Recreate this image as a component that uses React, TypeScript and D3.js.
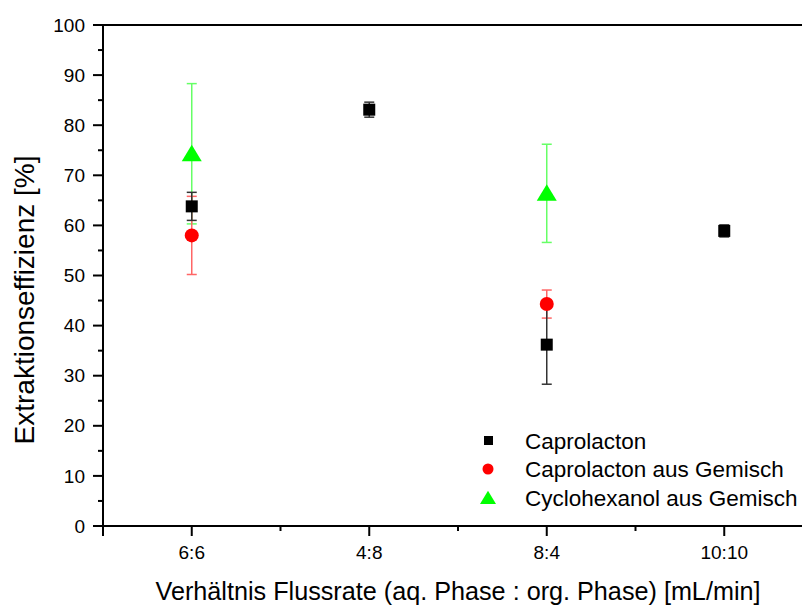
import React from "react";
import * as d3 from "d3";

const categories = ["6:6", "4:8", "8:4", "10:10"];
const capro = [63.8, 83.1, 36.2, 58.9];
const caproErr = [2.8, 1.5, 7.9, 1.2];
const caproMix = [58.0, null, 44.3, null];
const caproMixErr = [7.8, null, 2.8, null];
const cyclo = [74.3, null, 66.4, null];
const cycloErr = [14.0, null, 9.8, null];
const yTicks = [0, 10, 20, 30, 40, 50, 60, 70, 80, 90, 100];
const seriesNames = ["Caprolacton", "Caprolacton aus Gemisch", "Cyclohexanol aus Gemisch"];

const font = "Arial, 'Liberation Sans', sans-serif";

export default function App() {
  const W = 802, H = 606;
  const left = 103, top = 25, bottom = 526;
  const x = d3.scaleLinear().domain([0.5, 4.5]).range([left, left + 4 * 177.5]);
  const y = d3.scaleLinear().domain([0, 100]).range([bottom, top]);
  const minorY = d3.range(5, 100, 10);
  const minorX = [1.5, 2.5, 3.5, 4.5];

  const errBar = (i: number, v: number | null, e: number | null, color: string, key: string) => {
    if (v == null || e == null) return null;
    const cx = x(i + 1);
    return (
      <g key={key} stroke={color} strokeWidth={1.5}>
        <line x1={cx} x2={cx} y1={y(v + e)} y2={y(v - e)} />
        <line x1={cx - 5} x2={cx + 5} y1={y(v + e)} y2={y(v + e)} />
        <line x1={cx - 5} x2={cx + 5} y1={y(v - e)} y2={y(v - e)} />
      </g>
    );
  };
  const tri = (cx: number, cy: number, s: number) =>
    `M${cx},${cy - s * 0.9} L${cx + s},${cy + s * 0.75} L${cx - s},${cy + s * 0.75} Z`;

  return (
    <svg width={W} height={H} style={{ position: "absolute", left: 0, top: 0 }} fontFamily={font}>
      <rect width={W} height={H} fill="white" />
      {/* error bars */}
      {cyclo.map((v, i) => errBar(i, v, cycloErr[i], "#66ff66", "ce" + i))}
      {caproMix.map((v, i) => errBar(i, v, caproMixErr[i], "#ff6666", "me" + i))}
      {capro.map((v, i) => errBar(i, v, caproErr[i], "#333333", "pe" + i))}
      {/* markers */}
      {cyclo.map((v, i) => v == null ? null : (
        <path key={"c" + i} d={tri(x(i + 1), y(v), 10)} fill="#00ff00" />
      ))}
      {caproMix.map((v, i) => v == null ? null : (
        <circle key={"m" + i} cx={x(i + 1)} cy={y(v)} r={7} fill="#ff0000" />
      ))}
      {capro.map((v, i) => (
        <rect key={"p" + i} x={x(i + 1) - 6} y={y(v) - 6} width={12} height={12} fill="#000" />
      ))}
      {/* axes */}
      <line x1={left} x2={left} y1={top} y2={bottom} stroke="#000" strokeWidth={2} />
      <line x1={left} x2={W} y1={bottom} y2={bottom} stroke="#000" strokeWidth={2} />
      <line x1={left} x2={W} y1={top} y2={top} stroke="#000" strokeWidth={2} />
      {yTicks.map(t => (
        <g key={"yt" + t}>
          <line x1={left - 10} x2={left} y1={y(t)} y2={y(t)} stroke="#000" strokeWidth={2} />
          <text x={left - 18} y={y(t)} dy="0.35em" textAnchor="end" fontSize={19}>{t}</text>
        </g>
      ))}
      {minorY.map(t => (
        <line key={"ym" + t} x1={left - 5} x2={left} y1={y(t)} y2={y(t)} stroke="#000" strokeWidth={2} />
      ))}
      {categories.map((c, i) => (
        <g key={"xt" + c}>
          <line x1={x(i + 1)} x2={x(i + 1)} y1={bottom} y2={bottom + 10} stroke="#000" strokeWidth={2} />
          <text x={x(i + 1)} y={bottom + 26} dy="0.35em" textAnchor="middle" fontSize={19}>{c}</text>
        </g>
      ))}
      {minorX.map(t => (
        <line key={"xm" + t} x1={x(t)} x2={x(t)} y1={bottom} y2={bottom + 5} stroke="#000" strokeWidth={2} />
      ))}
      <line x1={left} x2={left} y1={bottom} y2={bottom + 10} stroke="#000" strokeWidth={2} />
      {/* axis titles */}
      <text transform={`translate(24,300) rotate(-90)`} textAnchor="middle" dy="0.35em" fontSize={28}>
        Extraktionseffizienz [%]
      </text>
      <text x={458} y={591} textAnchor="middle" dy="0.35em" fontSize={25} textLength={605} lengthAdjust="spacingAndGlyphs">
        Verhältnis Flussrate (aq. Phase : org. Phase) [mL/min]
      </text>
      {/* legend */}
      <g fontSize={22.5}>
        <rect x={484} y={436} width={9} height={9} fill="#000" />
        <text x={525} y={441} dy="0.35em">{seriesNames[0]}</text>
        <circle cx={488} cy={469} r={5.5} fill="#ff0000" />
        <text x={525} y={469} dy="0.35em">{seriesNames[1]}</text>
        <path d={tri(488, 498, 8)} fill="#00ff00" />
        <text x={525} y={498} dy="0.35em">{seriesNames[2]}</text>
      </g>
    </svg>
  );
}
